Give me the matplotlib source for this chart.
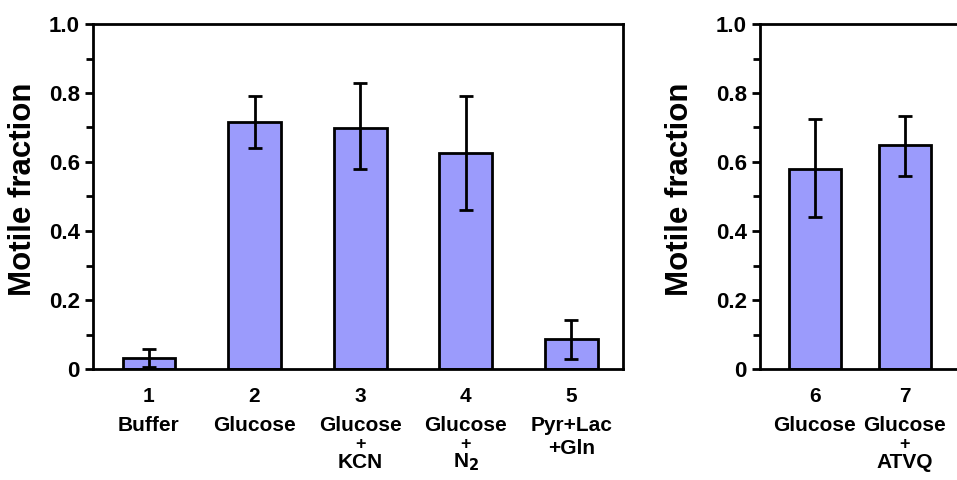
import numpy as np
import matplotlib
matplotlib.use("Agg")
import matplotlib.pyplot as plt
from matplotlib.ticker import MultipleLocator

plt.rcParams['font.family'] = ['Liberation Sans', 'DejaVu Sans']
plt.rcParams['font.weight'] = 'bold'

# Left panel data
left_pos = [1, 2, 3, 4, 5]
left_names = ["Buffer", "Glucose", "Glucose", "Glucose", "Pyr+Lac"]
left_extra = ["", "", "+\nKCN", "+\nN$_\\mathbf{2}$", "+Gln"]
left_vals = [0.033, 0.715, 0.70, 0.625, 0.086]
left_err_hi = [0.057, 0.79, 0.83, 0.79, 0.142]
left_err_lo = [0.005, 0.64, 0.58, 0.462, 0.029]

# Right panel data
right_pos = [6, 7]
right_names = ["Glucose", "Glucose"]
right_extra = ["", "+\nATVQ"]
right_vals = [0.58, 0.648]
right_err_hi = [0.725, 0.733]
right_err_lo = [0.442, 0.56]

yticks = [0, 0.2, 0.4, 0.6, 0.8, 1.0]
ytick_labels = ["0", "0.2", "0.4", "0.6", "0.8", "1.0"]

bar_color = "#9b9bfc"
W, H = 957, 480
fig = plt.figure(figsize=(W / 100, H / 100), dpi=100)

ax1 = fig.add_axes([93 / W, 1 - 369 / H, (623 - 93) / W, (369 - 24) / H])
ax2 = fig.add_axes([760 / W, 1 - 369 / H, (957 - 760) / W, (369 - 24) / H])


def put(ax, x, s, off, size=15):
    ax.annotate(s, xy=(x, 0), xycoords=("data", "axes fraction"),
                xytext=(0, -off), textcoords="offset points",
                ha="center", va="center", fontsize=size, fontweight="bold")


def draw_panel(ax, pos, vals, hi, lo, names, extra, width, xlim):
    vals = np.array(vals)
    yerr = [vals - np.array(lo), np.array(hi) - vals]
    ax.bar(pos, vals, width=width, color=bar_color, edgecolor="black",
           linewidth=2, zorder=2)
    ax.errorbar(pos, vals, yerr=yerr, fmt="none", ecolor="black",
                elinewidth=2, capsize=5, capthick=2, zorder=3)
    ax.set_xlim(*xlim)
    ax.set_ylim(0, 1.0)
    ax.set_yticks(yticks)
    ax.set_yticklabels(ytick_labels, fontsize=16, fontweight="bold")
    ax.yaxis.set_minor_locator(MultipleLocator(0.1))
    ax.tick_params(axis="y", which="major", direction="out", length=6, width=2, pad=3.5)
    ax.tick_params(axis="y", which="minor", direction="out", length=5, width=2)
    ax.set_xticks([])
    for s in ax.spines.values():
        s.set_linewidth(2)
    ax.set_ylabel("Motile fraction", fontsize=22.5, fontweight="bold")
    for p, n, e in zip(pos, names, extra):
        put(ax, p, str(p), 20)
        put(ax, p, n, 40.5)
        if e.startswith("+\n"):
            put(ax, p, "+", 54, size=13)
            put(ax, p, e[2:], 67)
        elif e:
            put(ax, p, e, 57)


draw_panel(ax1, left_pos, left_vals, left_err_hi, left_err_lo,
           left_names, left_extra, 0.5, (0.47, 5.49))
ax1.yaxis.set_label_coords(-55 / (623 - 93), 0.52)

draw_panel(ax2, right_pos, right_vals, right_err_hi, right_err_lo,
           right_names, right_extra, 0.58, (5.39, 7.58))
ax2.spines["right"].set_visible(False)
ax2.yaxis.set_label_coords(-65 / (957 - 760), 0.52)

fig.savefig("out.png", dpi=100)
